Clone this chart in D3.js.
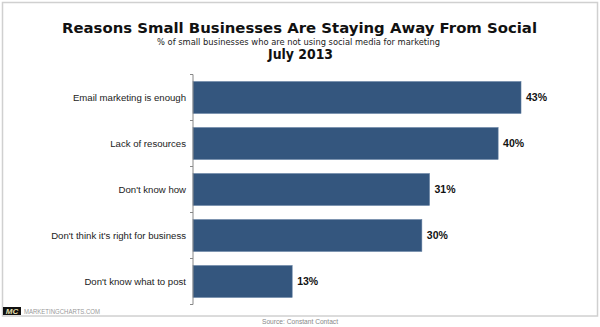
<!DOCTYPE html>
<html><head><meta charset="utf-8">
<script src="https://cdn.jsdelivr.net/npm/d3@7"></script>
<style>body{margin:0;background:#fff;}svg{display:block;}</style>
</head><body>
<svg id="c" width="600" height="327"></svg>
<script>
const categories = ["Email marketing is enough","Lack of resources","Don't know how","Don't think it's right for business","Don't know what to post"];
const values = [43, 40, 31, 30, 13];
const valueLabels = ["43%","40%","31%","30%","13%"];
const title = "Reasons Small Businesses Are Staying Away From Social";
const subtitle = "% of small businesses who are not using social media for marketing";
const dateLabel = "July 2013";
const source = "Source: Constant Contact";

const svg = d3.select("#c");
const tfont = "'DejaVu Sans', Verdana, sans-serif";
const font = "'Liberation Sans', Arial, sans-serif";

// frame
svg.append("rect").attr("x",2.5).attr("y",2.5).attr("width",595).attr("height",313.5)
  .attr("fill","none").attr("stroke","#d0d0d0").attr("stroke-width",1.5);

// titles
svg.append("text").attr("x",299.5).attr("y",33).attr("text-anchor","middle")
  .attr("font-family",tfont).attr("font-weight","bold").attr("font-size",14.5)
  .attr("textLength",475).attr("lengthAdjust","spacingAndGlyphs").attr("fill","#111").text(title);
svg.append("text").attr("x",298.5).attr("y",44.5).attr("text-anchor","middle")
  .attr("font-family",tfont).attr("font-size",9)
  .attr("textLength",283).attr("lengthAdjust","spacingAndGlyphs").attr("fill","#222").text(subtitle);
svg.append("text").attr("x",300.5).attr("y",58.5).attr("text-anchor","middle")
  .attr("font-family",tfont).attr("font-weight","bold").attr("font-size",13.5)
  .attr("textLength",65).attr("lengthAdjust","spacingAndGlyphs").attr("fill","#111").text(dateLabel);

const x = d3.scaleLinear().domain([0, 43]).range([193, 521]);
const y = d3.scaleBand().domain(categories).range([74.5, 304.5]).paddingInner(0.31).paddingOuter(0.155);

// bars
svg.append("g").selectAll("rect").data(values).join("rect")
  .attr("x", x(0)).attr("y",(d,i)=>y(categories[i]))
  .attr("width", d=>x(d)-x(0)).attr("height", y.bandwidth())
  .attr("fill","#34567e").attr("stroke","#5a789c").attr("stroke-width",0.6);

// axis
const ax = svg.append("g").attr("transform","translate(193,0)");
ax.append("line").attr("x1",0).attr("x2",0).attr("y1",74.5).attr("y2",304.5).attr("stroke","#888");
const step = y.step();
const tickYs = d3.range(categories.length+1).map(i=>74.5+i*step);
ax.selectAll("line.t").data(tickYs).join("line").attr("class","t")
  .attr("x1",-3).attr("x2",0).attr("y1",d=>d).attr("y2",d=>d).attr("stroke","#888");

// category labels
svg.append("g").selectAll("text").data(categories).join("text")
  .attr("x",186).attr("y",d=>y(d)+y.bandwidth()/2+3.5)
  .attr("text-anchor","end").attr("font-family",font).attr("font-size",9.6).attr("fill","#222").text(d=>d);

// value labels
svg.append("g").selectAll("text").data(values).join("text")
  .attr("x",d=>x(d)+5).attr("y",(d,i)=>y(categories[i])+y.bandwidth()/2+3.5)
  .attr("font-family",font).attr("font-weight","bold").attr("font-size",10.5).attr("fill","#111").text((d,i)=>valueLabels[i]);

// footer logo
svg.append("rect").attr("x",3).attr("y",307).attr("width",18).attr("height",8).attr("fill","#111");
svg.append("text").attr("x",12).attr("y",314).attr("text-anchor","middle").attr("font-family",font)
  .attr("font-weight","bold").attr("font-style","italic").attr("font-size",8).attr("fill","#e8e0b0").text("MC");
svg.append("text").attr("x",24).attr("y",313.5).attr("font-family",font).attr("font-size",7)
  .attr("textLength",76).attr("lengthAdjust","spacingAndGlyphs").attr("fill","#999").text("MARKETINGCHARTS.COM");
svg.append("text").attr("x",262).attr("y",323.5).attr("font-family",font).attr("font-size",7)
  .attr("textLength",76).attr("lengthAdjust","spacingAndGlyphs").attr("fill","#888").text(source);
</script>
</body></html>
